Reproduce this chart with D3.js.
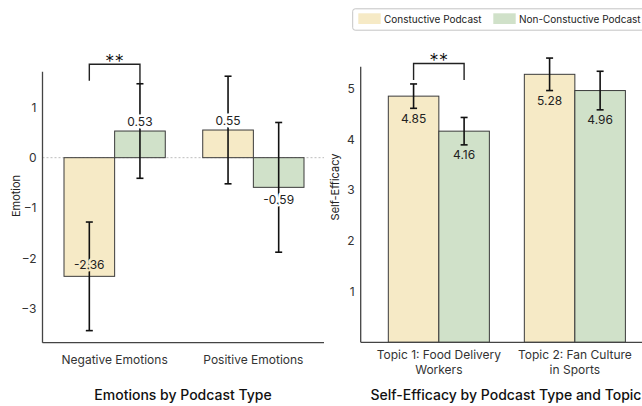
<!DOCTYPE html>
<html><head><meta charset="utf-8">
<script src="https://cdn.jsdelivr.net/npm/d3@7"></script>
<style>
body{margin:0;background:#fff;}
svg{display:block;font-family:Inter,"Noto Sans",sans-serif;}
</style></head>
<body><svg id="c" width="642" height="406"></svg>
<script>
// ---- data ----
const series = ["Constuctive Podcast", "Non-Constuctive Podcast"];
const seriesColors = ["#f6eac6", "#d0e1c9"];

const emoCategories = ["Negative Emotions", "Positive Emotions"];
const emoValues = [[-2.36, 0.53], [0.55, -0.59]];
const emoErrors = [[1.08, 0.94], [1.07, 1.29]];
const emoTicks = [-3, -2, -1, 0, 1];

const seCategories = [["Topic 1: Food Delivery", "Workers"], ["Topic 2: Fan Culture", "in Sports"]];
const seValues = [[4.85, 4.16], [5.28, 4.96]];
const seErrors = [[0.24, 0.27], [0.32, 0.38]];
const seTicks = [1, 2, 3, 4, 5];

const sig = [{chart: "emo", group: 0, text: "**"}, {chart: "se", group: 0, text: "**"}];

// ---- drawing ----
const svg = d3.select("#c");
const axisColor = "#444";
const textColor = "#222";

function drawPanel(o) {
  const g = svg.append("g");
  const x0 = d3.scaleBand().domain(d3.range(o.cats.length)).range(o.xRange)
    .paddingInner(o.pi).paddingOuter(o.po);
  const x1 = d3.scaleBand().domain(d3.range(series.length)).range([0, x0.bandwidth()]);
  const y = d3.scaleLinear().domain(o.yDomain).range([o.yBottom, o.yTop]);

  if (o.zeroLine) {
    g.append("line").attr("x1", o.xRange[0]).attr("x2", o.axisRight)
      .attr("y1", y(0)).attr("y2", y(0))
      .attr("stroke", "#bdbdbd").attr("stroke-width", 1).attr("stroke-dasharray", "2,2");
  }

  // bars
  o.values.forEach((vals, gi) => {
    vals.forEach((v, si) => {
      const bx = x0(gi) + x1(si);
      g.append("rect").attr("x", bx).attr("width", x1.bandwidth())
        .attr("y", Math.min(y(v), y(0))).attr("height", Math.abs(y(v) - y(0)))
        .attr("fill", seriesColors[si]).attr("stroke", "#3a3a3a").attr("stroke-width", 1);
    });
  });
  // error bars
  o.values.forEach((vals, gi) => {
    vals.forEach((v, si) => {
      const cx = x0(gi) + x1(si) + x1.bandwidth() / 2;
      const e = o.errors[gi][si];
      const eg = g.append("g").attr("stroke", "#111").attr("stroke-width", 1.6);
      eg.append("line").attr("x1", cx).attr("x2", cx).attr("y1", y(v + e)).attr("y2", y(v - e));
      [v + e, v - e].forEach(t => eg.append("line").attr("x1", cx - 3.5).attr("x2", cx + 3.5)
        .attr("y1", y(t)).attr("y2", y(t)));
    });
  });
  // value labels
  o.values.forEach((vals, gi) => {
    vals.forEach((v, si) => {
      const cx = x0(gi) + x1(si) + x1.bandwidth() / 2;
      const p = o.labelPos(v, o.errors[gi][si], y);
      const t = g.append("text").attr("x", cx).attr("y", p.y).attr("text-anchor", "middle")
        .attr("font-size", 12).attr("fill", textColor).text(v.toFixed(2));
      if (o.halo) {
        t.attr("stroke", p.inside ? seriesColors[si] : "#fff").attr("stroke-width", 5)
          .attr("paint-order", "stroke").attr("stroke-linejoin", "round");
      }
    });
  });

  // axes
  g.append("line").attr("x1", o.xRange[0]).attr("x2", o.xRange[0])
    .attr("y1", o.yTop).attr("y2", o.yBottom).attr("stroke", axisColor).attr("stroke-width", 1.3);
  g.append("line").attr("x1", o.xRange[0]).attr("x2", o.axisRight)
    .attr("y1", o.yBottom).attr("y2", o.yBottom).attr("stroke", axisColor).attr("stroke-width", 1.3);

  const ya = d3.axisLeft(y).tickValues(o.ticks).tickSize(0).tickPadding(6).tickFormat(d3.format("d"));
  const yg = g.append("g").attr("transform", `translate(${o.xRange[0]},0)`).call(ya);
  yg.select(".domain").remove();
  yg.selectAll("text").attr("font-size", 12).attr("fill", "#333").attr("font-family", "Inter,sans-serif");

  // category labels
  o.cats.forEach((c, gi) => {
    const lines = Array.isArray(c) ? c : [c];
    const t = g.append("text").attr("text-anchor", "middle").attr("font-size", 12).attr("fill", "#333");
    lines.forEach((l, li) => t.append("tspan").attr("x", x0(gi) + x0.bandwidth() / 2)
      .attr("y", o.catY + li * 14.5).text(l));
  });

  // y title
  g.append("text").attr("transform", `translate(${o.yTitleX},${o.yTitleY}) rotate(-90)`)
    .attr("text-anchor", "middle").attr("font-size", 11).attr("fill", textColor).text(o.yTitle);
  // panel title
  g.append("text").attr("x", o.titleX).attr("y", 399.5).attr("text-anchor", "middle")
    .attr("font-size", 14).attr("font-weight", 500).attr("fill", "#111").text(o.title);

  return {x0, x1, y, g};
}

const emo = drawPanel({
  cats: emoCategories, values: emoValues, errors: emoErrors, ticks: emoTicks,
  xRange: [42.5, 325.5], axisRight: 324, pi: 0.27, po: 0.155, halo: true,
  yDomain: [-3.68, 1.71], yTop: 71.7, yBottom: 342.7, zeroLine: true,
  labelPos: (v, e, y) => v >= 0 ? {y: y(v) - 5, inside: false}
    : (v < -1 ? {y: y(v) - 7.5, inside: true} : {y: y(v) + 17, inside: false}),
  catY: 364, yTitle: "Emotion", yTitleX: 20, yTitleY: 196,
  title: "Emotions by Podcast Type", titleX: 183
});

const se = drawPanel({
  cats: seCategories, values: seValues, errors: seErrors, ticks: seTicks,
  xRange: [360.7, 653], axisRight: 650, pi: 0.257, po: 0.203, halo: false,
  yDomain: [0, 5.43], yTop: 66.7, yBottom: 342.3, zeroLine: false,
  labelPos: (v, e, y) => ({y: y(v - e) + 14.5, inside: false}),
  catY: 359, yTitle: "Self-Efficacy", yTitleX: 339, yTitleY: 187,
  title: "Self-Efficacy by Podcast Type and Topic", titleX: 506
});

// significance brackets
sig.forEach(s => {
  const P = s.chart === "emo" ? emo : se;
  const top = s.chart === "emo" ? 64.3 : 63.5;
  const xa = P.x0(s.group) + P.x1(0) + P.x1.bandwidth() / 2;
  const xb = P.x0(s.group) + P.x1(1) + P.x1.bandwidth() / 2;
  const legs = s.chart === "emo" ? [80.7, 83] : [80, 80];
  P.g.append("path")
    .attr("d", `M${xa},${legs[0]}V${top}H${xb}V${legs[1]}`)
    .attr("fill", "none").attr("stroke", "#222").attr("stroke-width", 1.4);
  P.g.append("text").attr("x", (xa + xb) / 2).attr("y", top + 3.5)
    .attr("text-anchor", "middle").attr("font-size", 19).attr("font-weight", 300)
    .attr("fill", "#111").text(s.text);
});

// legend
const lg = svg.append("g");
lg.append("rect").attr("x", 352.7).attr("y", 8.8).attr("width", 310).attr("height", 21.4)
  .attr("rx", 2.5).attr("fill", "#fff").attr("stroke", "#c4c4c4").attr("stroke-width", 1);
const legX = [358.3, 493.3];
series.forEach((s, i) => {
  lg.append("rect").attr("x", legX[i]).attr("y", 13.3).attr("width", 22.4).attr("height", 10.7)
    .attr("fill", seriesColors[i]);
  lg.append("text").attr("x", legX[i] + 25.7).attr("y", 22.6).attr("font-size", 10)
    .attr("fill", "#222").text(s);
});
</script></body></html>
